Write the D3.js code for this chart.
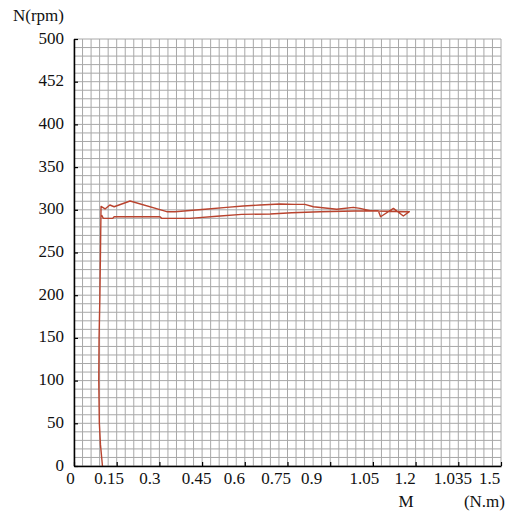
<!DOCTYPE html>
<html>
<head>
<meta charset="utf-8">
<script src="https://cdn.jsdelivr.net/npm/d3@7"></script>
<style>
  body { margin: 0; background: #fff; }
  svg text { font-family: "Liberation Serif", "Times New Roman", serif !important; fill: #111; }
</style>
</head>
<body>
<div id="chart"></div>
<script>
// tick values and the labels printed under them (the original has typos: 452, 1.035)
var xTicks = [0, 0.15, 0.3, 0.45, 0.6, 0.75, 0.9, 1.05, 1.2, 1.35, 1.5];
var xTickLabels = ["0", "0.15", "0.3", "0.45", "0.6", "0.75", "0.9", "1.05", "1.2", "1.035", "1.5"];
var yTicks = [0, 50, 100, 150, 200, 250, 300, 350, 400, 450, 500];
var yTickLabels = ["0", "50", "100", "150", "200", "250", "300", "350", "400", "452", "500"];

// rising part, near-vertical at small torque
var riseM = [0.100, 0.093, 0.089, 0.087, 0.088, 0.091, 0.093, 0.095];
var riseN = [0, 25, 50, 100, 150, 200, 250, 304];

// upper branch going out to 1.2
var outM = [0.109, 0.126, 0.141, 0.197, 0.326, 0.355, 0.418, 0.471, 0.536, 0.594, 0.653, 0.724,
            0.776, 0.811, 0.841, 0.923, 0.981, 1.005, 1.040, 1.069, 1.077, 1.122, 1.157, 1.178];
var outN = [301, 305.6, 303.6, 310.3, 297.8, 297.8, 299.4, 300.9, 302.9, 304.4, 305.6, 306.8,
            306.4, 306.4, 303.6, 300.6, 302.9, 301.7, 298.9, 298.9, 291.9, 301.7, 292.7, 297.8];

// lower branch coming back
var backM = [1.026, 0.864, 0.765, 0.689, 0.589, 0.513, 0.407, 0.308, 0.302, 0.141, 0.136, 0.103, 0.097];
var backN = [298.9, 297.8, 296.6, 295.1, 294.7, 292.7, 290.0, 290.0, 291.9, 291.9, 290.0, 290.0, 293.9];

var chart = {
    w: 516,
    h: 516,
    left: 74,
    right: 501,
    top: 39,
    bottom: 466,
    font: "'Liberation Serif', 'Times New Roman', serif"
};

var svg = d3.select("#chart")
    .append("svg")
    .attr("width", chart.w)
    .attr("height", chart.h);

var xScale = d3.scaleLinear()
    .domain([0, 1.5])
    .range([chart.left, chart.right]);

var yScale = d3.scaleLinear()
    .domain([0, 500])
    .range([chart.bottom, chart.top]);

// grid: 0.03 N.m by 10 rpm
var gx = d3.range(0, 51).map(function (i) { return i * 0.03; });
var gy = d3.range(0, 51).map(function (i) { return i * 10; });

var grid = svg.append("g").attr("class", "grid");
grid.selectAll("line.v")
    .data(gx)
    .enter().append("line")
    .attr("class", "v")
    .attr("x1", function (d) { return xScale(d); })
    .attr("x2", function (d) { return xScale(d); })
    .attr("y1", yScale(0))
    .attr("y2", yScale(500))
    .attr("stroke", "#a8a8a8")
    .attr("stroke-width", 1);
grid.selectAll("line.h")
    .data(gy)
    .enter().append("line")
    .attr("class", "h")
    .attr("x1", xScale(0))
    .attr("x2", xScale(1.5))
    .attr("y1", function (d) { return yScale(d); })
    .attr("y2", function (d) { return yScale(d); })
    .attr("stroke", "#a8a8a8")
    .attr("stroke-width", 1);

// the curve, drawn as one path: rise, out, back
var pts = [];
riseM.forEach(function (m, i) { pts.push([m, riseN[i]]); });
outM.forEach(function (m, i) { pts.push([m, outN[i]]); });
backM.forEach(function (m, i) { pts.push([m, backN[i]]); });

var line = d3.line()
    .x(function (d) { return xScale(d[0]); })
    .y(function (d) { return yScale(d[1]); });

svg.append("path")
    .datum(pts)
    .attr("d", line)
    .attr("fill", "none")
    .attr("stroke", "#b9442f")
    .attr("stroke-width", 1.4)
    .attr("stroke-linejoin", "round");

// axes
var xAxis = d3.axisBottom(xScale)
    .tickValues(xTicks)
    .tickSizeInner(-4)
    .tickSizeOuter(0)
    .tickFormat(function (d, i) { return xTickLabels[i]; });

var yAxis = d3.axisLeft(yScale)
    .tickValues(yTicks)
    .tickSizeInner(-4)
    .tickSizeOuter(0)
    .tickFormat(function (d, i) { return yTickLabels[i]; });

// the printed labels in the original drift left of their ticks
var xLabelNudge = [-4, -8, -10, -6, -11, -12, -19, -9, -11, -6, -12];

var gX = svg.append("g")
    .attr("transform", "translate(0," + chart.bottom + ")")
    .attr("font-family", null)
    .call(xAxis);
gX.attr("font-family", chart.font).attr("font-size", 17);
gX.select(".domain").attr("stroke", "#000").attr("stroke-width", 1.5);
gX.selectAll(".tick line").attr("stroke", "#000").attr("stroke-width", 1.2);
gX.selectAll(".tick text")
    .attr("y", 18)
    .attr("dy", 0)
    .attr("dx", function (d, i) { return xLabelNudge[i]; })
    .style("font-family", chart.font)
    .style("font-size", "17px")
    .attr("fill", "#111");

var gY = svg.append("g")
    .attr("transform", "translate(" + chart.left + ",0)")
    .call(yAxis);
gY.attr("font-family", chart.font).attr("font-size", 17);
gY.select(".domain").attr("stroke", "#000").attr("stroke-width", 1.5);
gY.selectAll(".tick line").attr("stroke", "#000").attr("stroke-width", 1.2);
gY.selectAll(".tick text")
    .attr("x", -10)
    .attr("dy", 4)
    .style("font-family", chart.font)
    .style("font-size", "17px")
    .attr("fill", "#111");

// titles
svg.append("text")
    .attr("x", 64)
    .attr("y", 21)
    .attr("text-anchor", "end")
    .style("font-family", chart.font)
    .style("font-size", "17px")
    .text("N(rpm)");

svg.append("text")
    .attr("x", 406)
    .attr("y", 507)
    .attr("text-anchor", "middle")
    .style("font-family", chart.font)
    .style("font-size", "17px")
    .text("M");

svg.append("text")
    .attr("x", 505)
    .attr("y", 507)
    .attr("text-anchor", "end")
    .style("font-family", chart.font)
    .style("font-size", "17px")
    .text("(N.m)");
</script>
</body>
</html>
